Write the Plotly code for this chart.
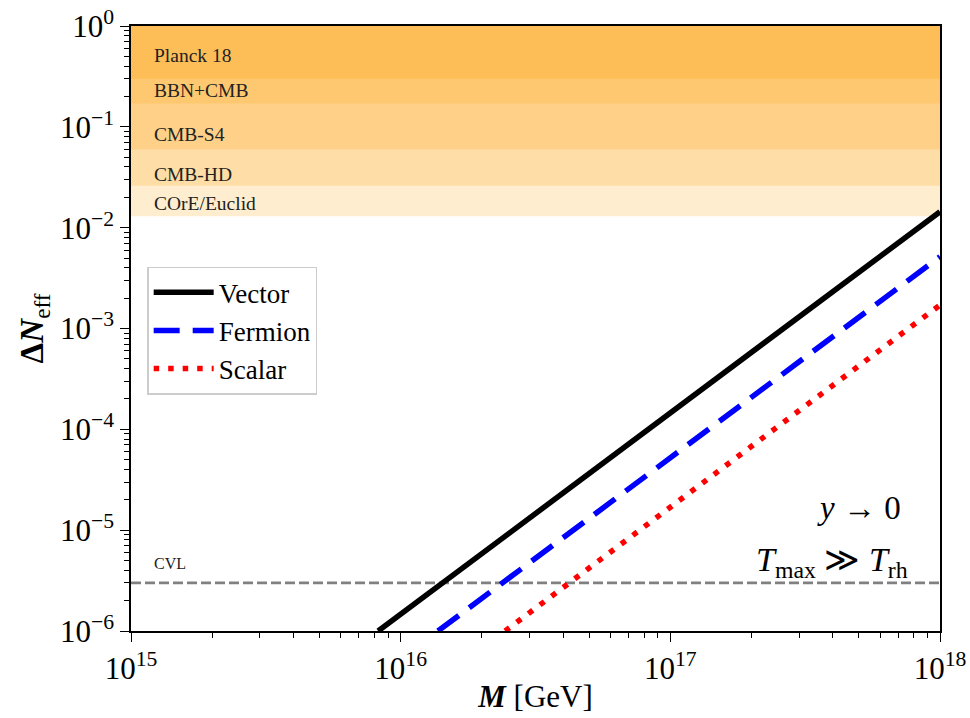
import plotly.graph_objects as go

# ---- data ----
mass_vector = [8.25e15, 1e18]
dneff_vector = [1e-6, 1.44e-2]
mass_fermion = [1.375e16, 1e18]
dneff_fermion = [1e-6, 5.15e-3]
mass_scalar = [2.44e16, 1e18]
dneff_scalar = [1e-6, 1.71e-3]

band_names = ["Planck 18", "BBN+CMB", "CMB-S4", "CMB-HD", "COrE/Euclid"]
band_limits = [0.3, 0.17, 0.06, 0.026, 0.013]
band_colors = ["#fdbe57", "#fdc86f", "#fed088", "#fedda6", "#ffedcf"]
band_label_y = [-0.295, -0.642, -1.078, -1.468, -1.759]

cvl_value = 3e-6
x_range = [1e15, 1e18]

ytick_vals = [1e0, 1e-1, 1e-2, 1e-3, 1e-4, 1e-5, 1e-6]
ytick_text = ["10<sup>0</sup>", "10<sup>−1</sup>", "10<sup>−2</sup>", "10<sup>−3</sup>",
              "10<sup>−4</sup>", "10<sup>−5</sup>", "10<sup>−6</sup>"]
xtick_vals = [1e15, 1e16, 1e17, 1e18]
xtick_text = ["10<sup>15</sup>", "10<sup>16</sup>", "10<sup>17</sup>", "10<sup>18</sup>"]

# minor tick positions (2..9 within each decade)
x_minor = [m * 10.0 ** e for e in range(15, 18) for m in range(2, 10)]
y_minor = [m * 10.0 ** e for e in range(-6, 0) for m in range(2, 10)]

FONT = "Liberation Serif"

fig = go.Figure()

shapes = []
for name, lim, col in zip(band_names[::-1], band_limits[::-1], band_colors[::-1]):
    shapes.append(dict(type="rect", xref="paper", yref="y", x0=0, x1=1,
                       y0=lim, y1=1.0, fillcolor=col, line=dict(width=0), layer="below"))

fig.add_trace(go.Scatter(x=x_range, y=[cvl_value, cvl_value], mode="lines",
                         line=dict(color="#808080", width=2.6, dash="10px,4px"),
                         showlegend=False, hoverinfo="skip"))

fig.add_trace(go.Scatter(x=mass_vector, y=dneff_vector, mode="lines", name="Vector",
                         line=dict(color="black", width=5.5)))
fig.add_trace(go.Scatter(x=mass_fermion, y=dneff_fermion, mode="lines", name="Fermion",
                         line=dict(color="#0000ff", width=5.5, dash="26px,13px")))
fig.add_trace(go.Scatter(x=mass_scalar, y=dneff_scalar, mode="lines", name="Scalar",
                         line=dict(color="#ff0000", width=5.5, dash="5.5px,9px")))

annotations = []
for name, ly in zip(band_names, band_label_y):
    annotations.append(dict(text=name, xref="paper", yref="y", x=0.026, y=ly,
                            xanchor="left", yanchor="middle", showarrow=False,
                            font=dict(family=FONT, size=19.5, color="#222")))
annotations.append(dict(text="CVL", xref="paper", yref="paper", x=0.026, y=0.112,
                        xanchor="left", yanchor="middle", showarrow=False,
                        font=dict(family=FONT, size=16, color="#222")))
annotations.append(dict(text="<i>y</i> → 0", xref="paper", yref="paper", x=0.954, y=0.203,
                        xanchor="right", yanchor="middle", showarrow=False,
                        font=dict(family=FONT, size=33, color="black")))
annotations.append(dict(text="<i>T</i><sub>max</sub> ≫ <i>T</i><sub>rh</sub>", xref="paper", yref="paper",
                        x=0.963, y=0.114, xanchor="right", yanchor="middle", showarrow=False,
                        font=dict(family=FONT, size=34, color="black")))

fig.update_layout(
    width=970, height=718,
    margin=dict(l=131, r=30, t=26, b=87),
    paper_bgcolor="white", plot_bgcolor="white",
    shapes=shapes, annotations=annotations,
    font=dict(family=FONT, color="black"),
    legend=dict(x=0.02, y=0.602, xanchor="left", yanchor="top",
                bgcolor="white", bordercolor="#cccccc", borderwidth=1.5,
                font=dict(family=FONT, size=27), tracegroupgap=4, itemwidth=60),
)
fig.update_xaxes(type="log", range=[15, 18], showgrid=False, zeroline=False, automargin=False,
                 showline=True, linecolor="black", linewidth=1.5, mirror=True,
                 ticks="outside", ticklen=9, tickwidth=1.3, tickcolor="black",
                 tickvals=xtick_vals, ticktext=xtick_text,
                 tickfont=dict(family=FONT, size=31),
                 minor=dict(ticks="outside", ticklen=5, tickwidth=1, tickcolor="black",
                            tickvals=x_minor, showgrid=False),
                 title=dict(text="<b><i>M</i></b> [GeV]", font=dict(family=FONT, size=31), standoff=0))
fig.update_yaxes(type="log", range=[-6, 0], showgrid=False, zeroline=False, automargin=False,
                 showline=True, linecolor="black", linewidth=1.5, mirror=True,
                 ticks="outside", ticklen=9, tickwidth=1.3, tickcolor="black",
                 tickvals=ytick_vals, ticktext=ytick_text,
                 tickfont=dict(family=FONT, size=31),
                 minor=dict(ticks="outside", ticklen=5, tickwidth=1, tickcolor="black",
                            tickvals=y_minor, showgrid=False),
                 title=dict(text="<b>Δ<i>N</i></b><sub>eff</sub>", font=dict(family=FONT, size=33), standoff=6))

fig.write_html("out.html", config={"displayModeBar": False},
               post_script="document.body.style.margin='0px';document.body.style.overflow='hidden';")
